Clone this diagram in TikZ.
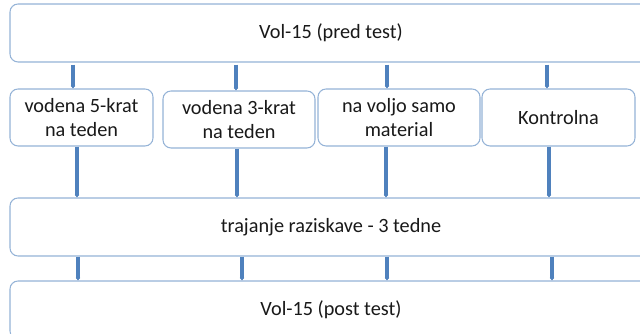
\documentclass[tikz,border=0pt]{standalone}
\usepackage{fontspec}
\setmainfont{Carlito}
\usetikzlibrary{arrows.meta}
\definecolor{boxline}{RGB}{149,179,215}
\definecolor{linkblue}{RGB}{79,129,189}

\begin{document}
\begin{tikzpicture}[x=0.75pt,y=-0.75pt,
    box/.style={draw=boxline,line width=0.8pt,rounded corners=6pt,fill=white,
      align=center,inner sep=0pt,text=black!90,
      font=\fontsize{15.2pt}{17.5pt}\selectfont},
    wide/.style={box,minimum width=481.5pt,minimum height=43.5pt},
    group/.style={box,minimum height=42.75pt},
    link/.style={draw=linkblue,line width=2.3pt,-{Latex[length=2pt,width=4pt]}}]
    \useasboundingbox (0,0) rectangle (640,334);
    \clip (0,0) rectangle (640,334);
                \node[wide] (pre) at (331,33) {Vol-15 (pred test)};
                \node[group, minimum width=107.25pt] (g1) at (81.5,117.5) {vodena 5-krat\\na teden};
                \node[group, minimum width=114pt] (g2) at (239,119.5) {vodena 3-krat\\na teden};
                \node[group, minimum width=121.5pt] (g3) at (399,117.5) {na voljo samo\\material};
                \node[group, minimum width=114.75pt] (g4) at (558.5,117.5) {Kontrolna};
                \node[wide] (dur) at (331,227) {trajanje raziskave - 3 tedne};
                \node[wide] (post) at (331,310) {Vol-15 (post test)};

                % columns of the links
                \coordinate (a1) at (73,0);
                \coordinate (a2) at (236,0);
                \coordinate (a3) at (387,0);
                \coordinate (a4) at (547,0);
                \coordinate (m1) at (77,0);
                \coordinate (m2) at (237,0);
                \coordinate (m3) at (386,0);
                \coordinate (m4) at (549,0);
                \coordinate (l1) at (78,0);
                \coordinate (l2) at (242,0);
                \coordinate (l3) at (387,0);
                \coordinate (l4) at (552,0);

                \foreach \i in {1,...,4}{
                  \path[link] ([yshift=-1.5pt]pre.south -| a\i) -- (g\i.north -| a\i);
                  \path[link] (g\i.south -| m\i) -- (dur.north -| m\i);
                  \path[link] (dur.south -| l\i) -- (post.north -| l\i);
                }
\end{tikzpicture}
\end{document}
